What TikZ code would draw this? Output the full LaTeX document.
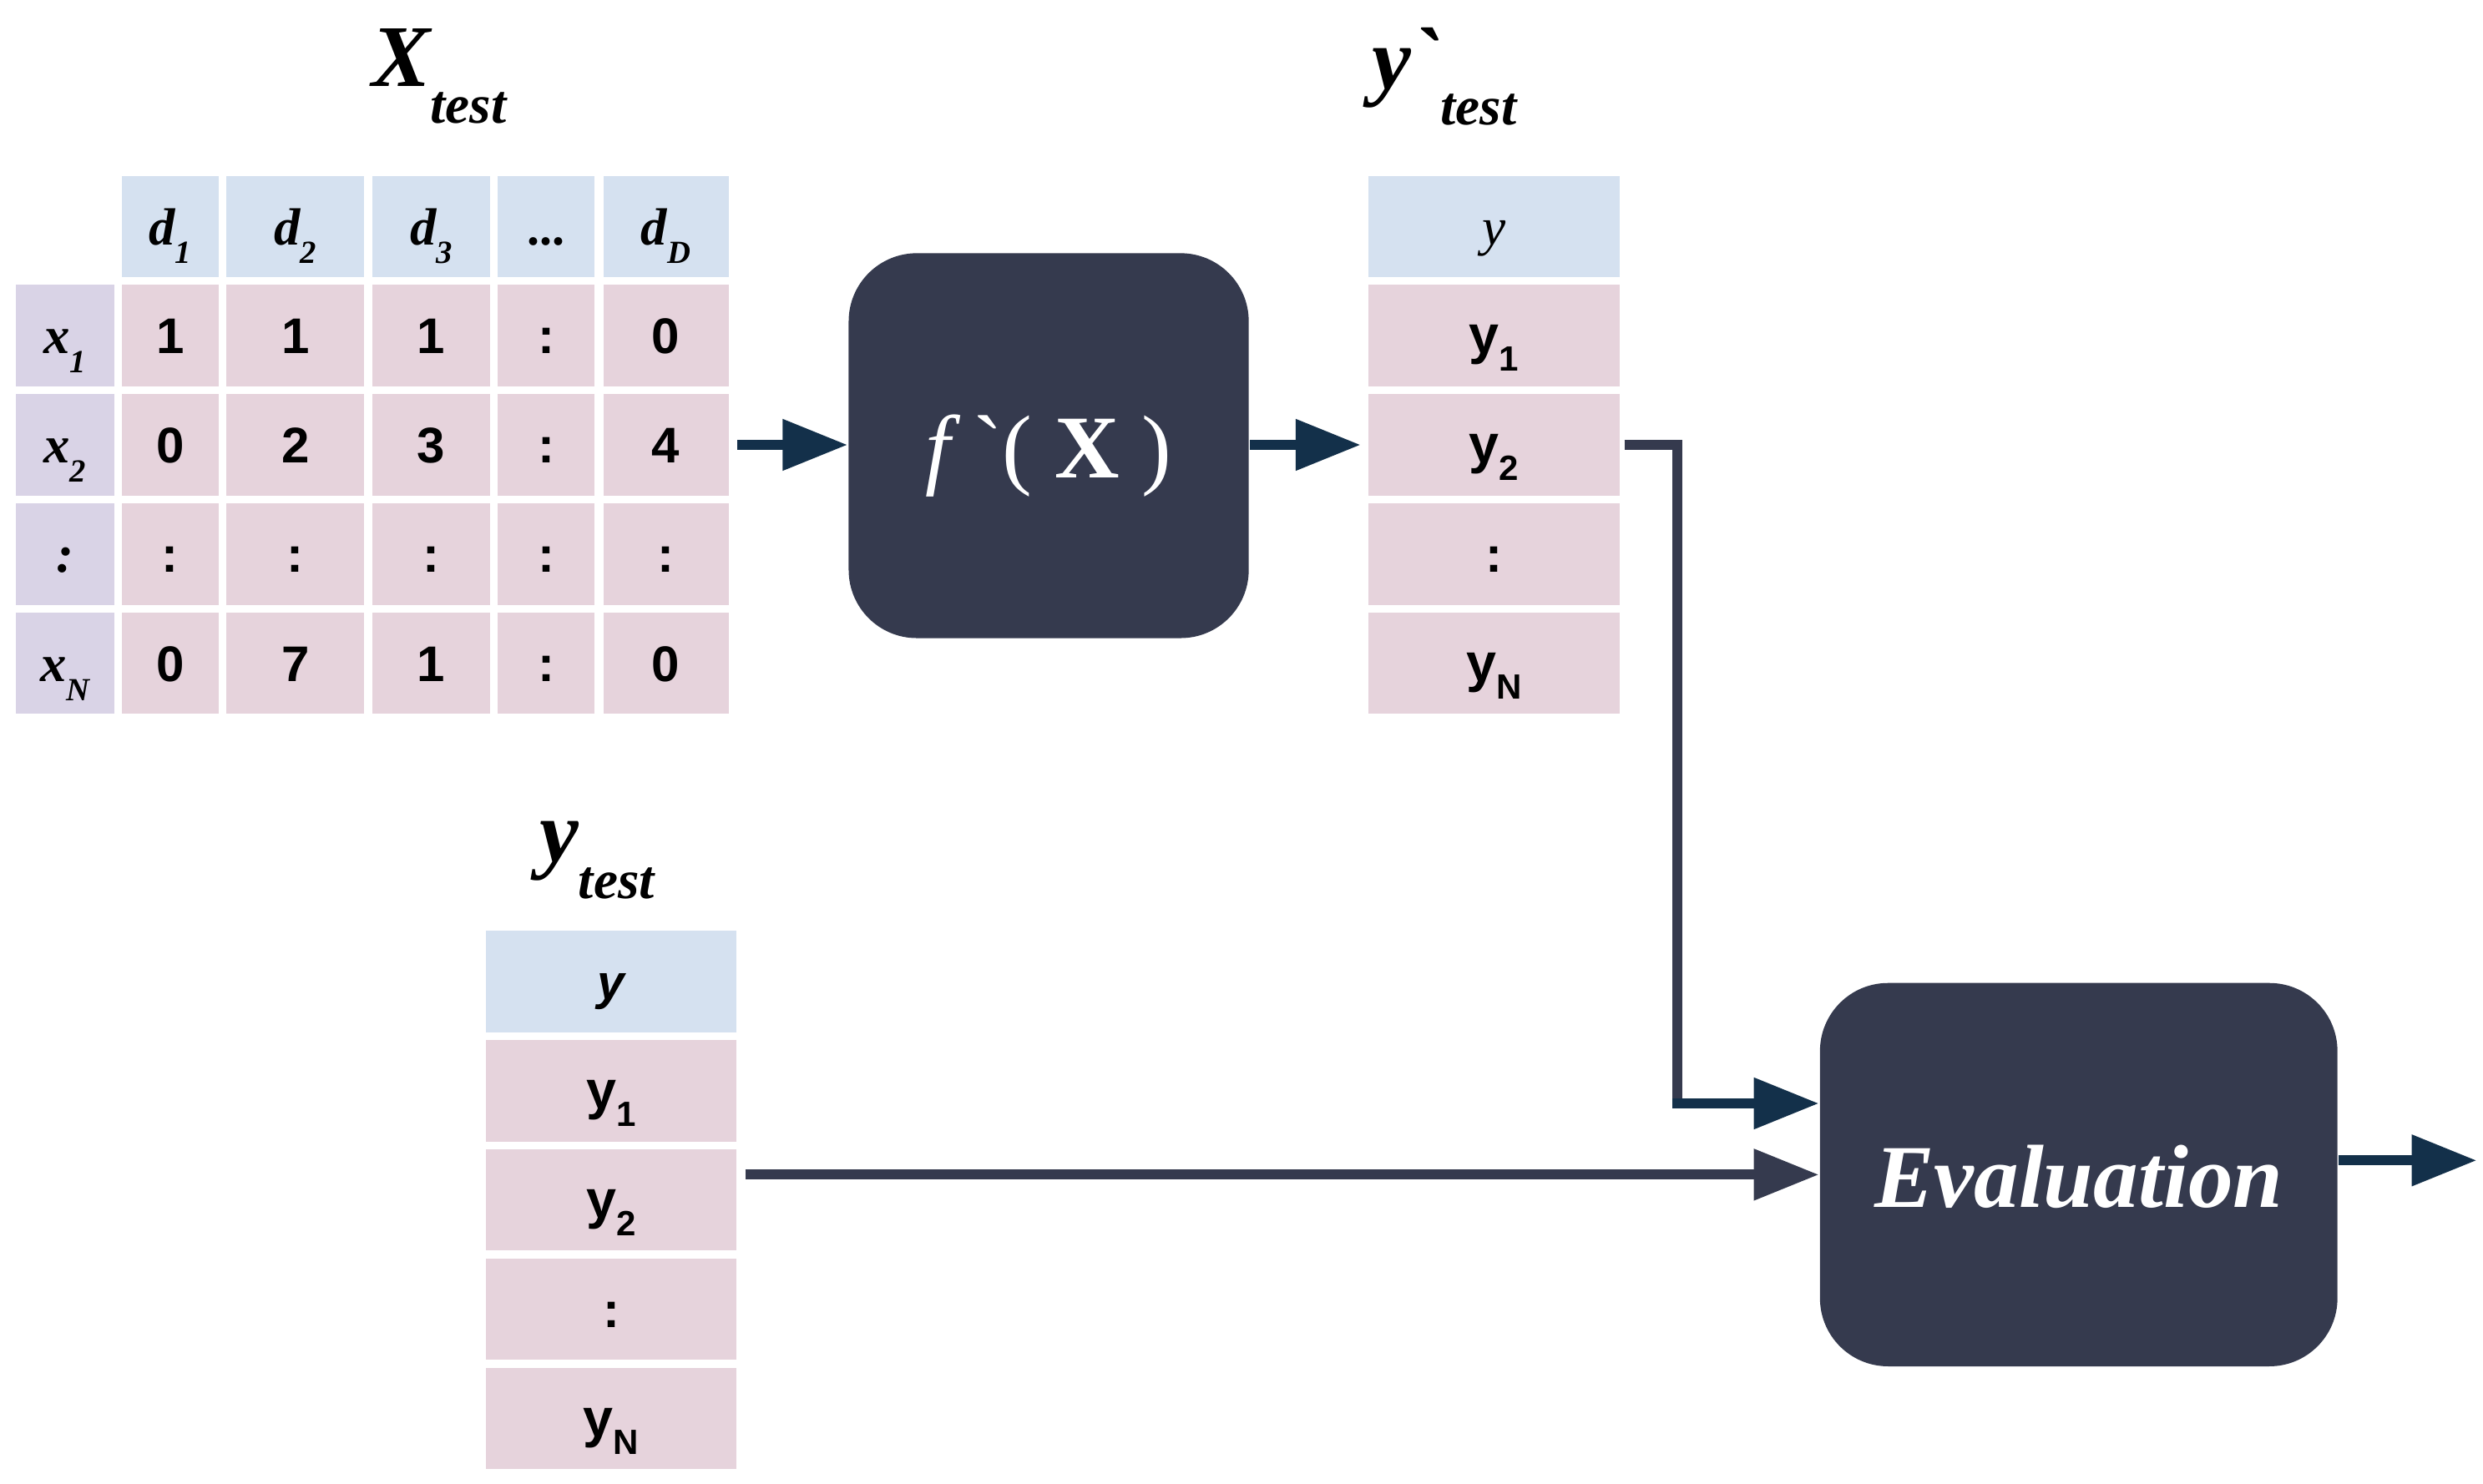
\documentclass[tikz,border=0pt]{standalone}
\usepackage{fontspec}
\setmainfont{Liberation Serif}
\newfontfamily\arialfont{Liberation Sans}
\newfontfamily\graveserif[Ligatures=TeXOff]{Liberation Serif}
\usepackage{tikz}
\usetikzlibrary{
    calc,
    arrows.meta
}
\definecolor{hdrblue}{HTML}{D5E1F0}
\definecolor{valpink}{HTML}{E6D3DC}
\definecolor{rowlav}{HTML}{D9D3E6}
\definecolor{boxslate}{HTML}{353A4E}
\definecolor{arrnavy}{HTML}{13304A}
\newcommand{\titlesub}[2]{{\fontsize{15.8}{18}\selectfont\bfseries\itshape #1}\raisebox{-0.23cm}{\fontsize{9.8}{11}\selectfont\bfseries\itshape #2}}
\newcommand{\cellit}[2]{{\fontsize{9.4}{11}\selectfont\bfseries\itshape #1}\raisebox{-0.12cm}{\fontsize{5.8}{7}\selectfont\bfseries\itshape #2}}
\newcommand{\cellnum}[1]{{\arialfont\bfseries\fontsize{9}{11}\selectfont #1}}
\newcommand{\ycell}[1]{{\arialfont\bfseries\fontsize{9.7}{11}\selectfont y\raisebox{-0.11cm}{\fontsize{6.3}{7}\selectfont #1}}}
\def\colx{{107.5,186.5,272.25,345,420.5}}
\def\colw{{0.61,0.87,0.74,0.61,0.79}}
\tikzset{
    cell/.style={rectangle, inner sep=0pt, minimum height=0.64cm, text=black,
        text height=0.23cm, text depth=0pt},
    hcell/.style={cell, fill=hdrblue},
    vcell/.style={cell, fill=valpink},
    rcell/.style={cell, fill=rowlav},
    blk/.style={rectangle, rounded corners=0.43cm, fill=boxslate, text=white, inner sep=0pt,
        text height=0.41cm, text depth=0pt, font=\fontsize{16.1}{18}\selectfont},
    ttl/.style={inner sep=0pt, anchor=base west},
    flow/.style={line width=0.063cm, -{Triangle[length=0.41cm,width=0.31cm]}},
    link/.style={line width=0.063cm, draw=boxslate}
}
\begin{document}
\begin{tikzpicture}[x=0.01cm,y=-0.01cm]
    \useasboundingbox (0,0) rectangle (1568,937.4);
    \node[ttl] (xtitle) at (234,54.5) {\titlesub{X}{test}};
    \node[ttl] (yhattitle) at (866,56) {\titlesub{y{\graveserif`}}{test}};
    \node[ttl] (ytitle) at (340,544.5) {\titlesub{y}{test}};
    % X test table
    \foreach \c/\lab in {1/{\cellit{d}{1}},2/{\cellit{d}{2}},3/{\cellit{d}{3}},4/{{\fontsize{9}{11}\selectfont\bfseries ...}},5/{\cellit{d}{D}}}{
        \pgfmathsetmacro\cx{\colx[\c-1]}
        \pgfmathsetmacro\cw{\colw[\c-1]}
        \node[hcell, minimum width=\cw cm] (h\c) at (\cx,143) {\lab};
    }
    \foreach \r/\ry/\lab/\vals in {1/212/{\cellit{x}{1}}/{1,1,1,:,0},2/281/{\cellit{x}{2}}/{0,2,3,:,4},3/350/{\cellit{:}{}}/{:,:,:,:,:},4/419/{\cellit{x}{N}}/{0,7,1,:,0}}{
        \node[rcell, minimum width=0.62cm] (r\r) at (41,\ry) {\lab};
        \foreach \v [count=\c] in \vals {
            \pgfmathsetmacro\cx{\colx[\c-1]}
            \pgfmathsetmacro\cw{\colw[\c-1]}
            \node[vcell, minimum width=\cw cm] (c\r\c) at (\cx,\ry) {\cellnum{\v}};
        }
    }
    % predicted column
    \node[hcell, minimum width=1.59cm] (p0) at (943.5,143) {{\fontsize{9.5}{11}\selectfont\itshape y}};
    \foreach \r/\ry/\lab in {1/212/{\ycell{1}},2/281/{\ycell{2}},3/350/{\cellnum{:}},4/419/{\ycell{N}}}
        \node[vcell, minimum width=1.59cm] (p\r) at (943.5,\ry) {\lab};
    % true column
    \node[hcell, minimum width=1.58cm] (t0) at (386,620) {{\arialfont\fontsize{8.8}{11}\selectfont\bfseries\itshape y}};
    \foreach \r/\ry/\lab in {1/689/{\ycell{1}},2/758/{\ycell{2}},3/827/{\cellnum{:}},4/896/{\ycell{N}}}
        \node[vcell, minimum width=1.58cm] (t\r) at (386,\ry) {\lab};
    % blocks
    \node[blk, minimum width=2.525cm, minimum height=2.43cm] (fbox) at (662.25,281.5)
        {{\itshape f} {\graveserif`}( {\bfseries X} )};
    \node[blk, minimum width=3.266cm, minimum height=2.42cm] (eval) at (1312.7,742)
        {\bfseries\itshape Evaluation};
    \draw[flow, arrnavy] ($(c25.east)+(5,0)$) -- (c25.east -| fbox.west);
    \draw[flow, arrnavy, shorten >=0.04cm] (fbox.east |- p2.west) -- (p2.west);
    \coordinate (bend) at (1059,697);
    \draw[link] ($(p2.east)+(2,0)$) -| (bend);
    \draw[flow, arrnavy] ($(bend)+(-3,0)$) -- (bend -| eval.west);
    \coordinate (tout) at ($(t2.east)+(5,0)$);
    \draw[flow, boxslate] (tout |- eval.west) -- (eval.west);
    \coordinate (res) at (1564,733);
    \draw[flow, arrnavy] (eval.east |- res) -- (res);
\end{tikzpicture}
\end{document}
